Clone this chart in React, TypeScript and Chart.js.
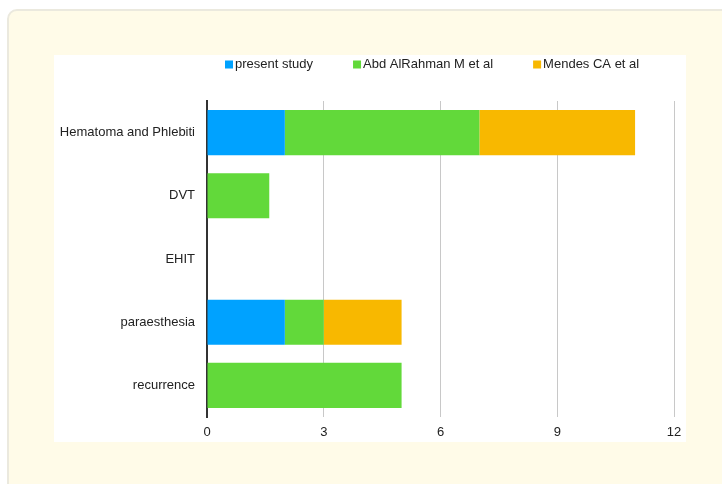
import React, { useEffect, useRef } from "react";
import { Chart, registerables } from "chart.js";

Chart.register(...registerables);

const categories = ["Hematoma and Phlebiti", "DVT", "EHIT", "paraesthesia", "recurrence"];
const seriesNames = ["present study", "Abd AlRahman M et al", "Mendes CA et al"];
const presentStudy = [2, 0, 0, 2, 0];
const abdAlRahman = [5, 1.6, 0, 1, 5];
const mendes = [4, 0, 0, 2, 0];
const xTicks = [0, 3, 6, 9, 12];
const colors = ["#00a2ff", "#62d93a", "#f8b800"];

const FONT = "Liberation Sans, Arial, sans-serif";

const topLegend = {
  id: "topLegend",
  afterDraw(chart: any) {
    const ctx = chart.ctx;
    ctx.save();
    ctx.font = `13px ${FONT}`;
    ctx.textBaseline = "middle";
    ctx.textAlign = "left";
    let x = 171;
    const cy = 9.5;
    chart.data.datasets.forEach((ds: any) => {
      ctx.fillStyle = ds.backgroundColor;
      ctx.fillRect(x, cy - 4, 8, 8);
      x += 10;
      ctx.fillStyle = "#222";
      ctx.fillText(ds.label, x, cy);
      x += ctx.measureText(ds.label).width + 40;
    });
    ctx.restore();
  },
};

export default function App() {
  const ref = useRef<HTMLCanvasElement | null>(null);
  useEffect(() => {
    if (!ref.current) return;
    const values = [presentStudy, abdAlRahman, mendes];
    const chart = new Chart(ref.current, {
      type: "bar",
      data: {
        labels: categories,
        datasets: seriesNames.map((name, i) => ({
          label: name,
          data: values[i],
          backgroundColor: colors[i],
          borderWidth: 0,
          barPercentage: 0.714,
          categoryPercentage: 1,
        })),
      },
      plugins: [topLegend],
      options: {
        indexAxis: "y",
        animation: false,
        responsive: false,
        maintainAspectRatio: false,
        layout: { padding: { left: 0, right: 12, top: 46, bottom: 0 } },
        plugins: {
          legend: { display: false },
          tooltip: { enabled: false },
        },
        scales: {
          x: {
            stacked: true,
            min: 0,
            max: 12,
            afterBuildTicks: (scale: any) => {
              scale.ticks = xTicks.map((v) => ({ value: v }));
            },
            afterFit: (scale: any) => {
              scale.height = 25;
              scale.paddingRight = 0;
              scale.paddingLeft = 0;
            },
            grid: { color: "#c8c8c8", lineWidth: 1, drawTicks: false },
            border: { display: false },
            ticks: {
              padding: 8,
              color: "#222",
              font: { family: FONT, size: 13 },
            },
          },
          y: {
            stacked: true,
            afterFit: (scale: any) => {
              scale.width = 153;
            },
            grid: { display: false, drawTicks: false },
            border: { display: true, color: "#333", width: 2 },
            ticks: {
              padding: 12,
              color: "#222",
              font: { family: FONT, size: 13 },
            },
          },
        },
      },
    });
    return () => chart.destroy();
  }, []);

  return (
    <div style={{ position: "fixed", left: 0, top: 0, width: 722, height: 484, background: "#ffffff", overflow: "hidden" }}>
      <div
        style={{
          position: "absolute",
          left: 7,
          top: 9,
          width: 740,
          height: 490,
          border: "2px solid #ebe9de",
          borderRadius: 10,
          background: "#fffbe8",
          boxSizing: "border-box",
        }}
      />
      <div style={{ position: "absolute", left: 54, top: 55, width: 632, height: 387, background: "#ffffff" }}>
        <canvas ref={ref} width={632} height={387} style={{ display: "block", width: 632, height: 387 }} />
      </div>
    </div>
  );
}
